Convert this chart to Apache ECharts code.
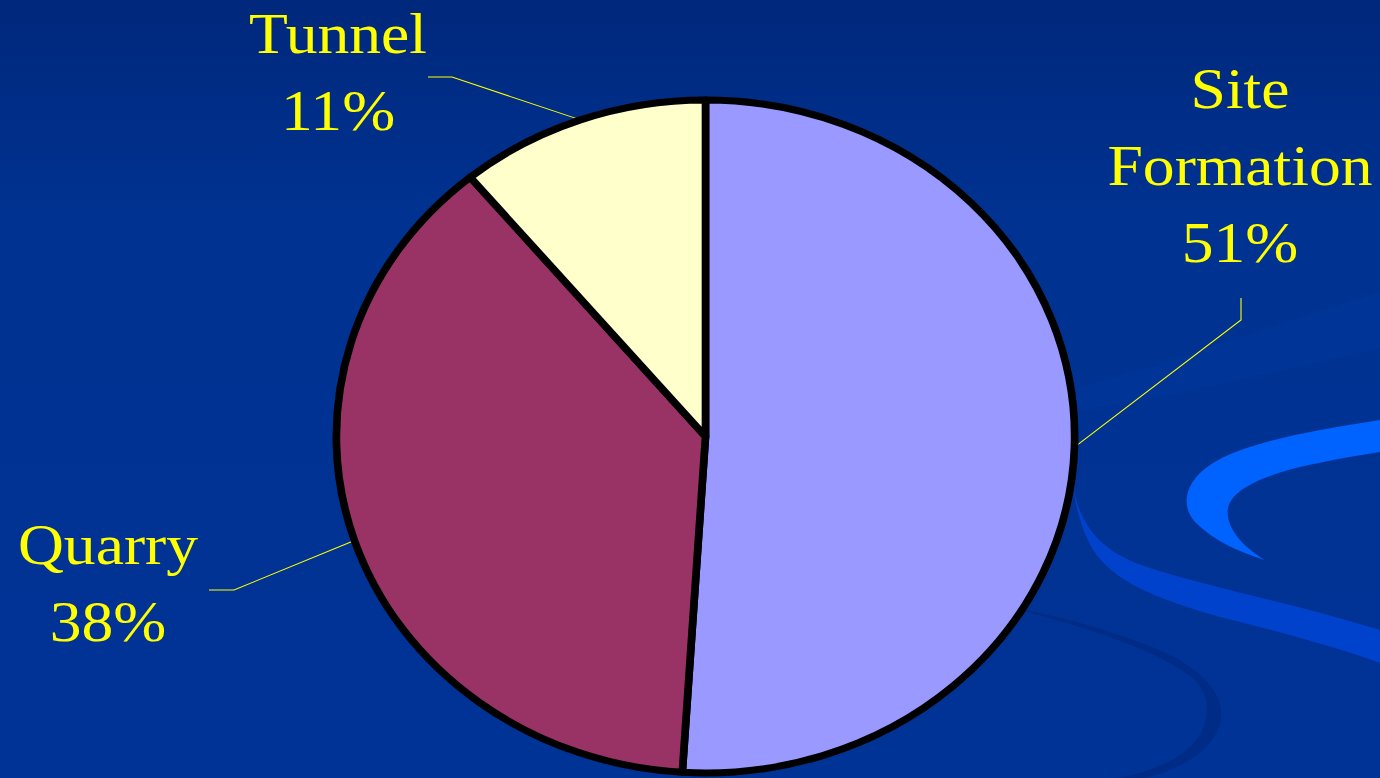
<!DOCTYPE html>
<html>
<head>
<meta charset="utf-8">
<script src="https://cdn.jsdelivr.net/npm/echarts@6/dist/echarts.min.js"></script>
<style>
  html, body { margin: 0; padding: 0; width: 1380px; height: 778px; overflow: hidden; background: #003396; }
  #bg, #pie { position: absolute; left: 0; top: 0; width: 1380px; height: 778px; }
  #pie { transform: scaleX(1.097); transform-origin: 705.5px 0; }
</style>
</head>
<body>
<div id="bg"></div>
<div id="pie"></div>
<script>
// ---- data ----
const categories = ['Site Formation', 'Quarry', 'Tunnel'];
const shares = [51, 38, 11];           // percent
const sliceColors = ['#9999FF', '#993366', '#FFFFCC'];

// ---- layout (final screen coordinates) ----
const CX = 705.5, CY = 436.5, STRETCH = 1.097;
const labelAnchors = {               // x centre, y top of text block
  'Site Formation': { c: [1240, 59],  line: [[1241, 320], [1241, 298]] },
  'Quarry':         { c: [108, 515],  line: [[234, 590], [209, 590]] },
  'Tunnel':         { c: [338, 4],    line: [[452, 77], [428, 77]] }
};
const un = x => CX + (x - CX) / STRETCH;   // screen x -> pre-stretch x

// ---- background decoration (slide template swooshes) ----
const decor = [
  { d: 'M1060,392 C1160,368 1280,322 1380,292 L1380,348 C1280,372 1160,398 1060,414 Z',
    style: { fill: '#003BA6', opacity: 0.22 } },
  { d: 'M1000,605 C1080,625 1160,650 1195,680 C1215,700 1210,735 1180,755 C1160,768 1130,778 1110,778 L1145,778 C1180,770 1210,752 1220,725 C1228,695 1200,670 1170,655 C1120,632 1060,616 1000,605 Z',
    style: { fill: '#002C87' } },
  { d: 'M1072,480 C1078,522 1098,552 1150,568 C1220,590 1300,605 1380,630 L1380,663 C1330,645 1280,632 1220,617 C1160,600 1112,582 1092,548 C1082,530 1076,510 1072,480 Z',
    style: { fill: '#0042CC' } },
  { d: 'M1380,420 C1300,432 1240,445 1210,465 C1185,482 1180,505 1195,522 C1215,542 1240,552 1265,560 C1240,545 1225,525 1228,508 C1232,490 1260,477 1300,467 C1330,460 1360,455 1380,452 Z',
    style: { fill: '#0062FF' } }
];

const bg = echarts.init(document.getElementById('bg'), null, { renderer: 'svg' });
bg.setOption({
  animation: false,
  backgroundColor: {
    type: 'linear', x: 0, y: 0, x2: 0, y2: 1,
    colorStops: [{ offset: 0, color: '#00287C' }, { offset: 0.28, color: '#003291' }, { offset: 1, color: '#003396' }]
  },
  series: [{
    type: 'custom',
    coordinateSystem: 'none',
    silent: true,
    data: [0],
    renderItem: function () {
      return {
        type: 'group',
        children: decor.map(p => ({ type: 'path', shape: { pathData: p.d }, style: p.style }))
      };
    }
  }]
});

// ---- pie (stretched horizontally into an ellipse, as in the reference) ----
const font = { color: '#FFFF00', fontFamily: '"Liberation Serif", "Times New Roman", serif', fontSize: 58 };
const pie = echarts.init(document.getElementById('pie'), null, { renderer: 'svg' });
pie.setOption({
  animation: false,
  backgroundColor: 'transparent',
  series: [{
    type: 'pie',
    center: [CX, CY],
    radius: 336.5,
    startAngle: 90,
    clockwise: true,
    avoidLabelOverlap: false,
    emphasis: { disabled: true },
    data: categories.map((name, i) => ({
      name, value: shares[i],
      itemStyle: { color: sliceColors[i], borderColor: '#000000', borderWidth: 7 }
    })),
    label: {
      show: true,
      position: 'outside',
      formatter: p => {
        const lines = p.name.split(' ').concat([p.value + '%']);
        return lines.map((t, k) => '{' + (k % 2 ? 'b' : 'a') + '|' + t + '}').join('\n');
      },
      ...font,
      align: 'center',
      rich: {
        a: { ...font, lineHeight: 58 },
        b: { ...font, lineHeight: 96 }
      }
    },
    labelLine: {
      show: true,
      length: 20, length2: 20,
      lineStyle: { color: '#FFFF00', width: 1 }
    },
    labelLayout: function (params) {
      const a = labelAnchors[categories[params.dataIndex]];
      const start = (params.labelLinePoints && params.labelLinePoints[0]) || [CX, CY];
      return {
        x: un(a.c[0]), y: a.c[1],
        align: 'center', verticalAlign: 'top',
        labelLinePoints: [start, [un(a.line[0][0]), a.line[0][1]], [un(a.line[1][0]), a.line[1][1]]]
      };
    }
  }]
});
</script>
</body>
</html>
